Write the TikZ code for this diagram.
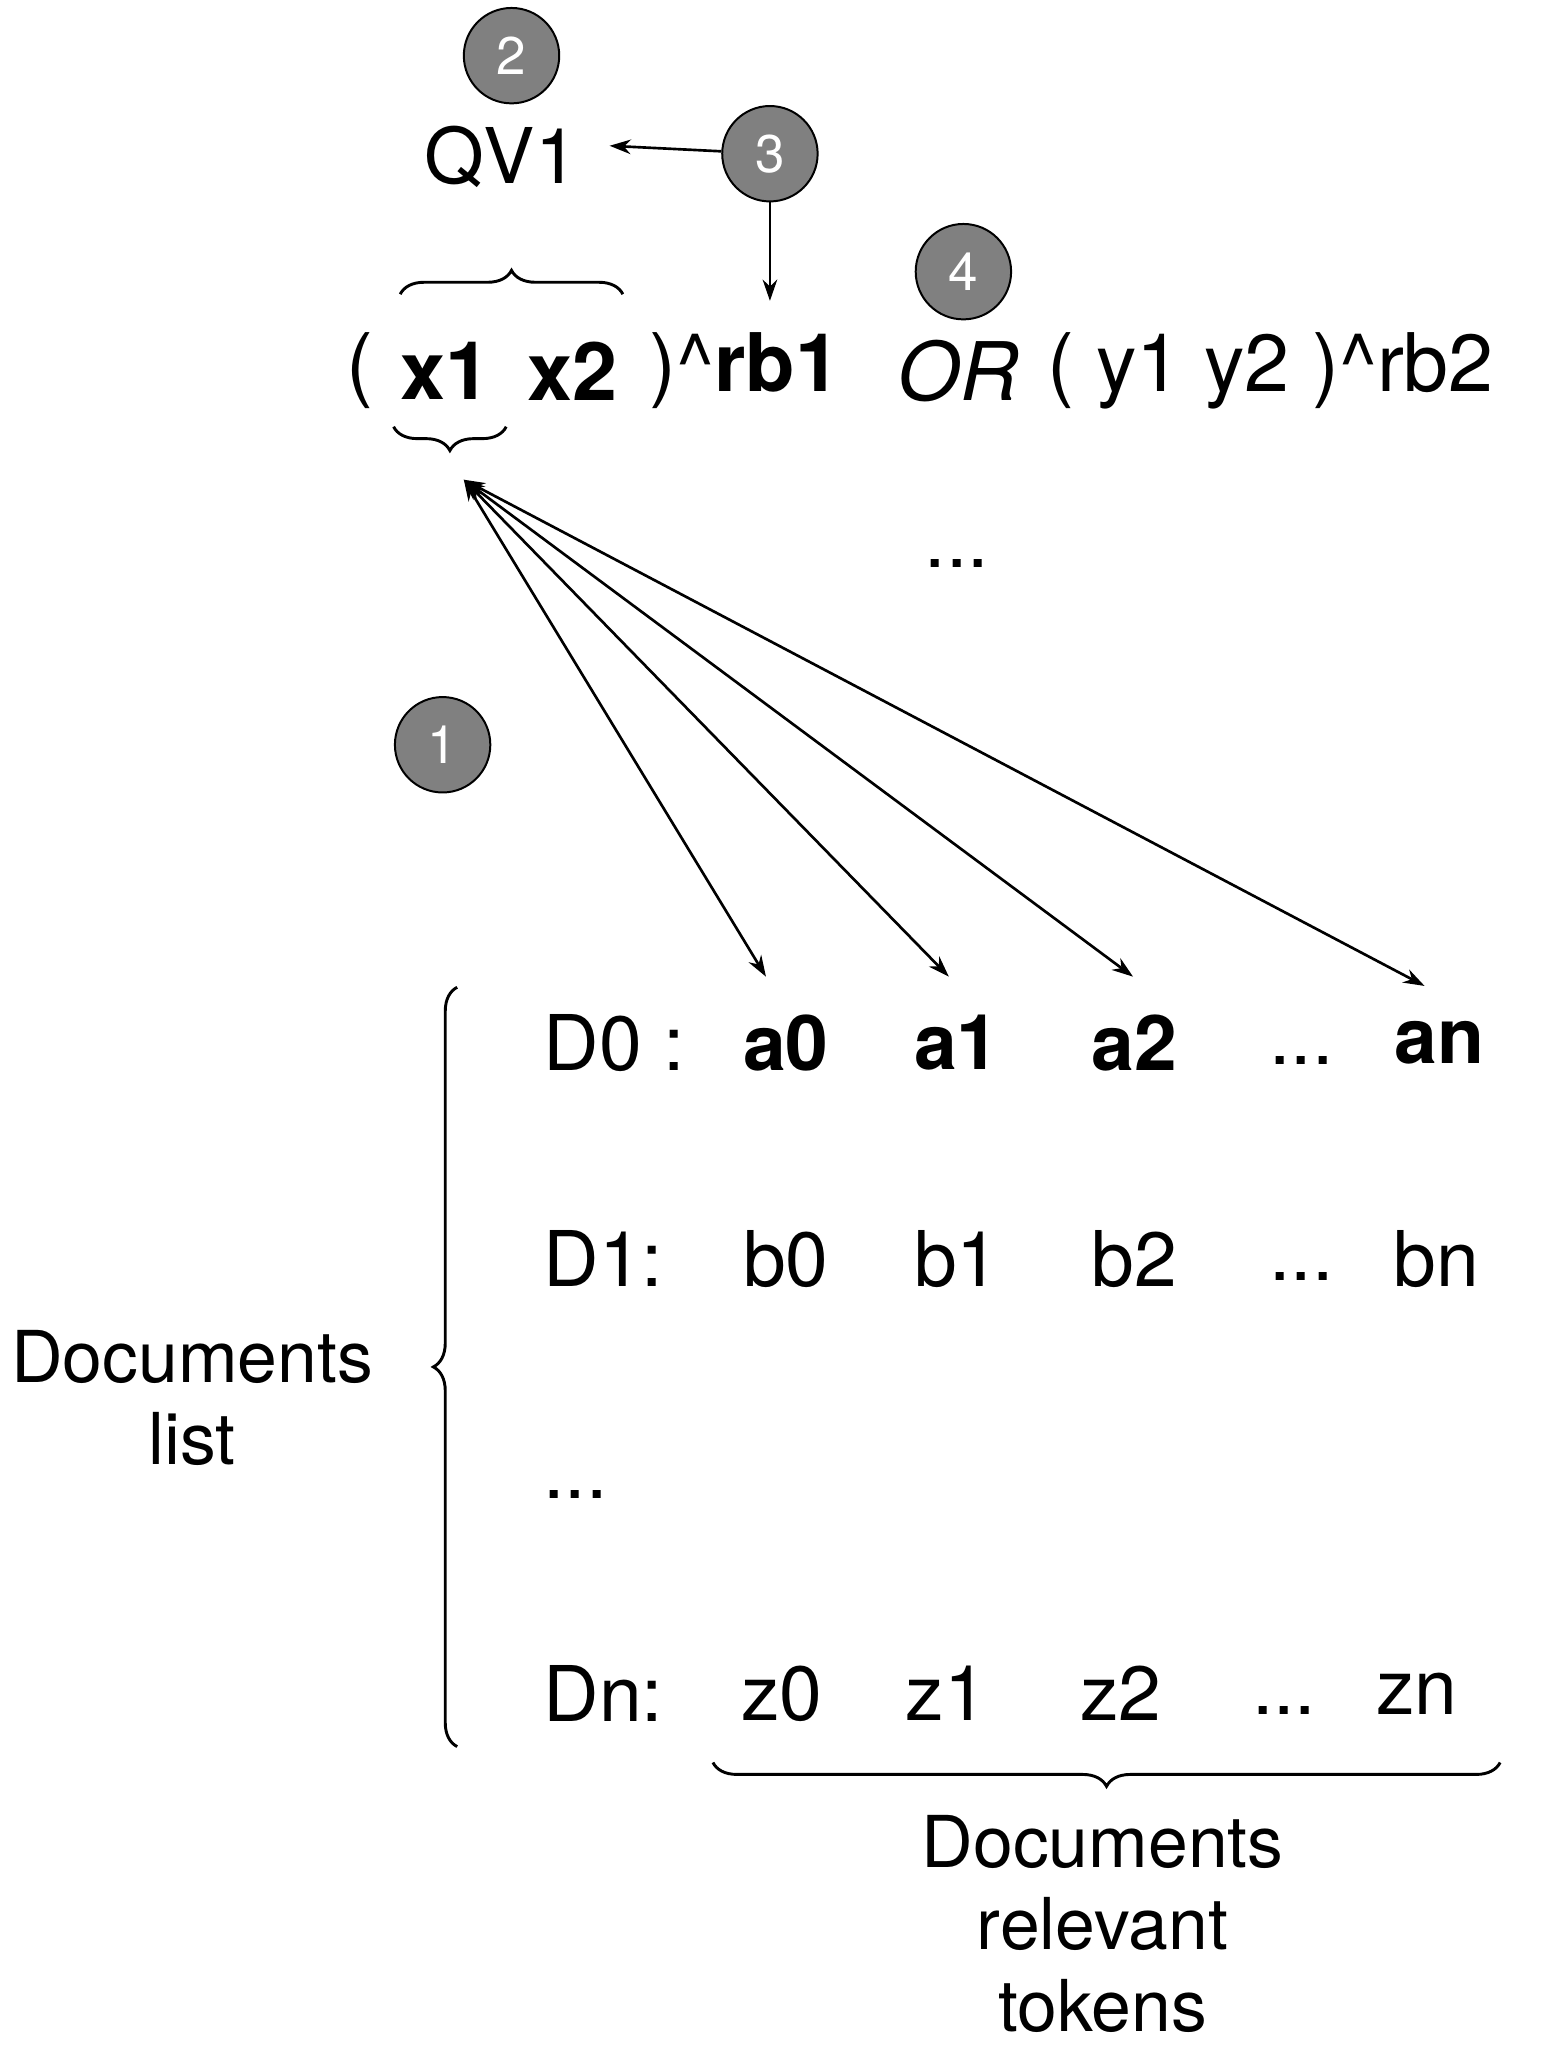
\documentclass[tikz,border=0pt]{standalone}
\usepackage{fontspec}
\setmainfont{TeX Gyre Heros}
\usetikzlibrary{arrows.meta,decorations.pathreplacing}
\begin{document}
\begin{tikzpicture}[x=1pt,y=-1pt,
  num/.style={circle,draw=black,line width=1.5pt,fill=black!50,minimum size=72pt,inner sep=0pt,text=white,font=\fontsize{40}{44}\selectfont},
  big/.style={font=\fontsize{58}{68}\selectfont,inner sep=0pt},
  row/.style={font=\fontsize{61}{70}\selectfont,inner sep=0pt},
  mid/.style={font=\fontsize{54}{62}\selectfont,inner sep=0pt,align=center},
  arr/.style={line width=2pt,-{Stealth[length=16pt,width=11pt]}},
  darr/.style={line width=2pt,{Stealth[length=16pt,width=11pt]}-{Stealth[length=16pt,width=11pt]}},
  brc/.style={line width=2.2pt,decorate,decoration={brace,amplitude=18pt}}]
\useasboundingbox (0,0) rectangle (1182,1553);
\node[num] (c2) at (386,42) {2};
\node[big] (qv) at (378,118) {QV1};
\node[num] (c3) at (581,116) {3};
\node[num] (c4) at (727,205) {4};
\node[num] (c1) at (334,562) {1};
\coordinate (qvr) at (460,110);
\coordinate (rbt) at (581,227);
\draw[arr] (c3) -- (qvr);
\draw[arr] (c3) -- (rbt);
\draw[brc] (302,222) -- (470,222);
\node[row] (p1) at (272,280) {(};
\node[row] (x1) at (336,280) {\textbf{x1}};
\node[row] (x2) at (432,280) {\textbf{x2}};
\node[row,anchor=west] (rb1) at (490,280) {)\^{}\textbf{rb1}};
\node[row] (or) at (723,280) {\textit{OR}};
\node[row,anchor=west] (rb2) at (790,280) {( y1 y2 )\^{}rb2};
\draw[brc] (382,322) -- (297,322);
\coordinate (tip) at (350,362);
\node[big] (dots1) at (722,425) {.{}.{}.};
% rows
\node[big,anchor=west] (d0) at (410,787) {D0 :};
\node[big] (a0) at (593,787) {\textbf{a0}};
\node[big] (a1) at (722,787) {\textbf{a1}};
\node[big] (a2) at (856,787) {\textbf{a2}};
\node[big] (ad) at (982,800) {.{}.{}.};
\node[big] (an) at (1086,787) {\textbf{an}};
\node[big,anchor=west] (d1) at (410,950) {D1:};
\node[big] (b0) at (593,950) {b0};
\node[big] (b1) at (722,950) {b1};
\node[big] (b2) at (856,950) {b2};
\node[big] (bd) at (982,963) {.{}.{}.};
\node[big] (bn) at (1084,950) {bn};
\node[big,anchor=west] (rd) at (410,1128) {.{}.{}.};
\node[big,anchor=west] (dn) at (410,1278) {Dn:};
\node[big] (z0) at (590,1278) {z0};
\node[big] (z1) at (714,1278) {z1};
\node[big] (z2) at (846,1278) {z2};
\node[big] (zd) at (969,1291) {.{}.{}.};
\node[big] (zn) at (1069,1278) {zn};
\coordinate (pa0) at (578,737);
\coordinate (pa1) at (716,737);
\coordinate (pa2) at (855,737);
\coordinate (pan) at (1075,744);
\draw[darr] (tip) -- (pa0);
\draw[darr] (tip) -- (pa1);
\draw[darr] (tip) -- (pa2);
\draw[darr] (tip) -- (pan);
\draw[brc] (345,1318) -- (345,745);
\node[mid] (dl) at (145,1055) {Documents\\list};
\draw[brc] (1132,1330) -- (538,1330);
\node[mid] (dr) at (832,1452) {Documents\\relevant\\tokens};
\end{tikzpicture}
\end{document}
